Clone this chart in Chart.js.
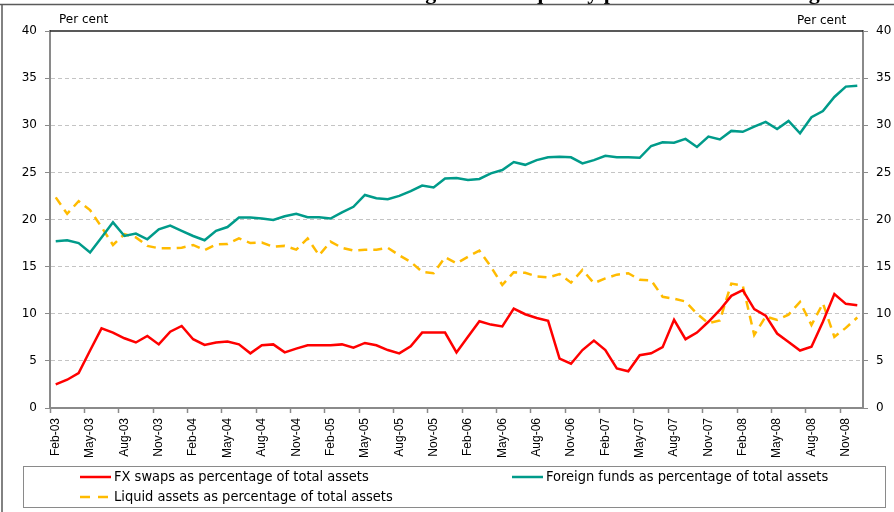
<!DOCTYPE html>
<html>
<head>
<meta charset="utf-8">
<script src="https://cdn.jsdelivr.net/npm/chart.js@4.4.0/dist/chart.umd.min.js"></script>
<style>
  html, body { margin: 0; padding: 0; background: #fff; }
  canvas { display: block; }
</style>
</head>
<body>
<canvas id="chart-liquidity" width="894" height="512"></canvas>
<script>
const months = [
  'Feb-03', 'Mar-03', 'Apr-03', 'May-03', 'Jun-03', 'Jul-03', 'Aug-03', 'Sep-03', 'Oct-03', 'Nov-03', 'Dec-03',
  'Jan-04', 'Feb-04', 'Mar-04', 'Apr-04', 'May-04', 'Jun-04', 'Jul-04', 'Aug-04', 'Sep-04', 'Oct-04', 'Nov-04', 'Dec-04',
  'Jan-05', 'Feb-05', 'Mar-05', 'Apr-05', 'May-05', 'Jun-05', 'Jul-05', 'Aug-05', 'Sep-05', 'Oct-05', 'Nov-05', 'Dec-05',
  'Jan-06', 'Feb-06', 'Mar-06', 'Apr-06', 'May-06', 'Jun-06', 'Jul-06', 'Aug-06', 'Sep-06', 'Oct-06', 'Nov-06', 'Dec-06',
  'Jan-07', 'Feb-07', 'Mar-07', 'Apr-07', 'May-07', 'Jun-07', 'Jul-07', 'Aug-07', 'Sep-07', 'Oct-07', 'Nov-07', 'Dec-07',
  'Jan-08', 'Feb-08', 'Mar-08', 'Apr-08', 'May-08', 'Jun-08', 'Jul-08', 'Aug-08', 'Sep-08', 'Oct-08', 'Nov-08', 'Dec-08',
];

const fxSwaps = [
  2.5, 3.0, 3.7, 6.1, 8.45, 8.0, 7.4, 6.95, 7.65, 6.75, 8.1,
  8.7, 7.3, 6.7, 6.95, 7.05, 6.75, 5.8, 6.65, 6.75, 5.9, 6.3, 6.65,
  6.65, 6.65, 6.75, 6.4, 6.9, 6.65, 6.15, 5.8, 6.55, 8.0, 8.0, 8.0,
  5.9, 7.55, 9.2, 8.85, 8.65, 10.55, 9.95, 9.55, 9.25, 5.25, 4.7, 6.15,
  7.15, 6.15, 4.2, 3.9, 5.6, 5.8, 6.45, 9.35, 7.3, 8.0, 9.15, 10.4,
  11.9, 12.5, 10.5, 9.8, 7.9, 7.0, 6.1, 6.5, 9.15, 12.1, 11.05, 10.9,
];

const foreignFunds = [
  17.7, 17.8, 17.5, 16.5, 18.1, 19.7, 18.25, 18.5, 17.9, 18.95, 19.35,
  18.8, 18.25, 17.8, 18.8, 19.2, 20.2, 20.2, 20.1, 19.95, 20.35, 20.6, 20.25,
  20.25, 20.1, 20.75, 21.35, 22.6, 22.25, 22.15, 22.5, 23.0, 23.6, 23.4, 24.35,
  24.4, 24.2, 24.3, 24.9, 25.25, 26.1, 25.8, 26.3, 26.6, 26.65, 26.6, 25.95,
  26.3, 26.75, 26.6, 26.6, 26.55, 27.8, 28.2, 28.15, 28.55, 27.7, 28.8, 28.5,
  29.4, 29.3, 29.85, 30.35, 29.6, 30.45, 29.15, 30.85, 31.5, 33.0, 34.1, 34.2,
];

const liquidAssets = [
  22.35, 20.6, 21.95, 21.0, 19.2, 17.3, 18.45, 18.1, 17.2, 16.95, 16.95,
  17.0, 17.3, 16.75, 17.35, 17.4, 18.0, 17.5, 17.55, 17.1, 17.2, 16.8, 18.0,
  16.2, 17.65, 17.0, 16.7, 16.8, 16.8, 17.0, 16.2, 15.5, 14.45, 14.3, 16.0,
  15.35, 16.05, 16.7, 15.0, 13.05, 14.4, 14.35, 13.95, 13.85, 14.2, 13.3, 14.65,
  13.25, 13.75, 14.15, 14.3, 13.6, 13.55, 11.8, 11.6, 11.3, 10.0, 9.0, 9.3,
  13.2, 13.0, 7.75, 9.7, 9.35, 9.9, 11.25, 8.8, 11.1, 7.55, 8.5, 9.6,
];

const seriesLabels = [
  'FX swaps as percentage of total assets',
  'Foreign funds as percentage of total assets',
  'Liquid assets as percentage of total assets',
];
const seriesColors = ['#ff0000', '#009b8a', '#ffbb00'];

const Y_MIN = 0;
const Y_MAX = 40;
const Y_STEP = 5;
const AXIS_TITLE = 'Per cent';
const CHART_TITLE = 'Changes in the liquidity position of the banking sector';

const GREY = '#8a8a8a';

// titre rogné, cadre, ligne du haut, "Per cent" et légende
const decor = {
  id: 'decor',
  afterDraw(chart) {
    const { ctx, chartArea } = chart;
    ctx.save();

    ctx.font = 'bold 22px "Liberation Serif", serif';
    ctx.fillStyle = '#000';
    ctx.textAlign = 'left';
    ctx.textBaseline = 'alphabetic';
    ctx.fillText(CHART_TITLE, 374, -1);

    ctx.strokeStyle = '#5a5a5a';
    ctx.lineWidth = 1.5;
    ctx.beginPath();
    ctx.moveTo(0, 4.5);
    ctx.lineTo(894, 4.5);
    ctx.moveTo(2, 4.5);
    ctx.lineTo(2, 512);
    ctx.stroke();

    ctx.strokeStyle = '#222';
    ctx.lineWidth = 1.5;
    ctx.beginPath();
    ctx.moveTo(chartArea.left, chartArea.top);
    ctx.lineTo(chartArea.right, chartArea.top);
    ctx.stroke();

    ctx.font = '12px "DejaVu Sans", sans-serif';
    ctx.fillStyle = '#000';
    ctx.textBaseline = 'middle';
    ctx.fillText(AXIS_TITLE, 59, 20);
    ctx.fillText(AXIS_TITLE, 797, 21);

    // légende
    ctx.strokeStyle = GREY;
    ctx.lineWidth = 1;
    ctx.strokeRect(23.5, 466.5, 862, 41);

    const entries = [
      { x: 80, y: 477, dash: [] },
      { x: 512, y: 477, dash: [] },
      { x: 80, y: 497, dash: [10, 8] },
    ];
    ctx.font = '14.5px "DejaVu Sans Condensed", "Liberation Sans Narrow", sans-serif';
    entries.forEach((e, i) => {
      ctx.strokeStyle = seriesColors[i];
      ctx.lineWidth = 2.5;
      ctx.setLineDash(e.dash);
      ctx.beginPath();
      ctx.moveTo(e.x, e.y);
      ctx.lineTo(e.x + 31, e.y);
      ctx.stroke();
      ctx.setLineDash([]);
      ctx.fillStyle = '#000';
      ctx.fillText(seriesLabels[i], e.x + 34, e.y);
    });

    ctx.restore();
  },
};

const yTicksCommon = {
  min: Y_MIN,
  max: Y_MAX,
};

new Chart(document.getElementById('chart-liquidity'), {
  type: 'line',
  data: {
    labels: months,
    datasets: [
      { label: seriesLabels[0], data: fxSwaps, borderColor: seriesColors[0] },
      { label: seriesLabels[1], data: foreignFunds, borderColor: seriesColors[1] },
      { label: seriesLabels[2], data: liquidAssets, borderColor: seriesColors[2], borderDash: [9, 6] },
    ],
  },
  options: {
    responsive: false,
    animation: false,
    layout: { padding: { top: 31, bottom: 46, left: 0, right: 0 } },
    elements: {
      line: { borderWidth: 2.5, tension: 0, fill: false },
      point: { radius: 0 },
    },
    plugins: {
      legend: { display: false },
      tooltip: { enabled: false },
    },
    scales: {
      x: {
        offset: true,
        afterFit: (scale) => { scale.height = 58; },
        grid: {
          offset: true,
          drawOnChartArea: false,
          tickLength: 5,
          tickWidth: 1.5,
          tickColor: (ctx) => (ctx.index % 3 === 0 ? GREY : 'rgba(0,0,0,0)'),
        },
        border: { color: GREY, width: 2 },
        ticks: {
          autoSkip: false,
          minRotation: 90,
          maxRotation: 90,
          padding: 5,
          color: '#000',
          font: { family: '"Liberation Sans", Arial, sans-serif', size: 12 },
          callback: (val, index) => (index % 3 === 0 ? months[index] : ''),
        },
      },
      y: {
        position: 'left',
        ...yTicksCommon,
        afterFit: (scale) => { scale.width = 50; },
        grid: {
          color: (ctx) => (ctx.tick && ctx.tick.value === Y_MAX ? 'rgba(0,0,0,0)' : '#c4c4c4'),
          lineWidth: 1,
          tickLength: 5,
          tickColor: GREY,
          tickBorderDash: [],
        },
        border: { color: GREY, width: 2, dash: [4, 3] },
        ticks: {
          stepSize: Y_STEP,
          padding: 8,
          color: '#000',
          font: { family: '"DejaVu Sans", sans-serif', size: 12 },
        },
      },
      y2: {
        position: 'right',
        ...yTicksCommon,
        afterFit: (scale) => { scale.width = 31; },
        grid: {
          drawOnChartArea: false,
          tickLength: 5,
          tickColor: GREY,
        },
        border: { color: GREY, width: 2 },
        ticks: {
          stepSize: Y_STEP,
          padding: 8,
          color: '#000',
          font: { family: '"DejaVu Sans", sans-serif', size: 12 },
        },
      },
    },
  },
  plugins: [decor],
});
</script>
</body>
</html>
